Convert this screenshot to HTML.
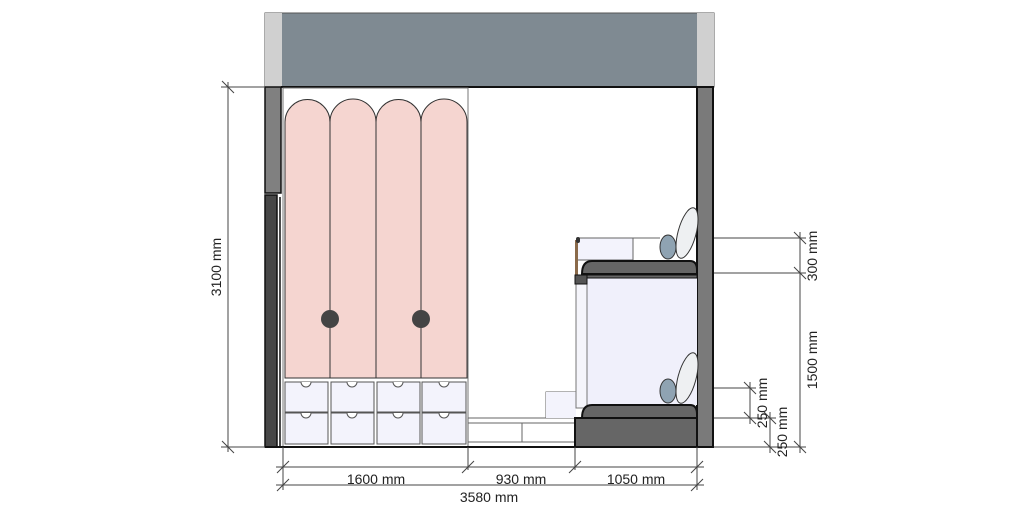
<!DOCTYPE html>
<html><head><meta charset="utf-8"><style>html,body{margin:0;padding:0;background:#fff}svg{display:block}text{font-family:"Liberation Sans",sans-serif;font-size:14px;fill:#222}</style></head><body>
<svg width="1024" height="512" viewBox="0 0 1024 512" xmlns="http://www.w3.org/2000/svg">
<!-- header -->
<rect x="265" y="13" width="449" height="74" fill="#7f8a92" stroke="#555" stroke-width="1"/>
<rect x="265" y="13" width="17" height="74" fill="#d0d0d0"/>
<rect x="697" y="13" width="17" height="74" fill="#d0d0d0"/>
<!-- walls -->
<rect x="265" y="87" width="16" height="106" fill="#808080" stroke="#111" stroke-width="1.5"/>
<rect x="265" y="195" width="12" height="252" fill="#474747" stroke="#111" stroke-width="1.5"/>
<line x1="280" y1="197" x2="280" y2="447" stroke="#111" stroke-width="1.5"/>
<rect x="697" y="87" width="16" height="360" fill="#7a7a7a" stroke="#111" stroke-width="2"/>
<line x1="281" y1="87" x2="714" y2="87" stroke="#111" stroke-width="2"/>
<!-- wardrobe -->
<rect x="283" y="88" width="185" height="359" fill="#fff" stroke="#777" stroke-width="1"/>
<g fill="#f5d5d0" stroke="#333" stroke-width="1">
<path d="M285 378 V122 A22.5 22.5 0 0 1 330 122 V378 Z"/>
<path d="M330 378 V122 A23 23 0 0 1 376 122 V378 Z"/>
<path d="M376 378 V122 A22.5 22.5 0 0 1 421 122 V378 Z"/>
<path d="M421 378 V122 A23 23 0 0 1 467 122 V378 Z"/>
</g>
<circle cx="330" cy="319" r="9" fill="#444"/>
<circle cx="421" cy="319" r="9" fill="#444"/>
<g fill="#f3f3fc" stroke="#555" stroke-width="1">
<rect x="285" y="382" width="43" height="30"/><rect x="331" y="382" width="43" height="30"/><rect x="377" y="382" width="43" height="30"/><rect x="422" y="382" width="44" height="30"/>
<rect x="285" y="413" width="43" height="31"/><rect x="331" y="413" width="43" height="31"/><rect x="377" y="413" width="43" height="31"/><rect x="422" y="413" width="44" height="31"/>
</g>
<g fill="#fff" stroke="#555" stroke-width="1">
<path d="M301 382 a5 5 0 0 0 10 0"/><path d="M347 382 a5 5 0 0 0 10 0"/><path d="M393 382 a5 5 0 0 0 10 0"/><path d="M439 382 a5 5 0 0 0 10 0"/>
<path d="M301 413 a5 5 0 0 0 10 0"/><path d="M347 413 a5 5 0 0 0 10 0"/><path d="M393 413 a5 5 0 0 0 10 0"/><path d="M439 413 a5 5 0 0 0 10 0"/>
</g>
<!-- steps -->
<rect x="468" y="418" width="108" height="29" fill="#fff" stroke="#666" stroke-width="1"/>
<line x1="468" y1="423" x2="576" y2="423" stroke="#666"/>
<line x1="468" y1="442" x2="576" y2="442" stroke="#666"/>
<line x1="522" y1="423" x2="522" y2="442" stroke="#666"/>
<path d="M546 418 V392 H576" fill="none" stroke="#666"/>
<rect x="546" y="392" width="30" height="26" fill="#f3f3fc"/>
<!-- bunk -->
<rect x="577" y="238" width="56" height="22" fill="#f3f3fc" stroke="#666" stroke-width="1"/>
<line x1="633" y1="238" x2="660" y2="238" stroke="#666"/>
<rect x="575" y="240" width="3" height="38" fill="#8a6a4a"/>
<rect x="576" y="237" width="4" height="6" rx="2" fill="#333"/>
<rect x="587" y="278" width="110" height="127" fill="#f0f0fb"/>
<rect x="576" y="278" width="11" height="130" fill="#f5f5fb" stroke="#777" stroke-width="1"/>
<path d="M582 274 Q582 261 592 261 H690 Q697 261 697 270 V274 Z" fill="#666" stroke="#111" stroke-width="2"/>
<rect x="575" y="275" width="122" height="3" fill="#666" stroke="#111" stroke-width="1"/>
<rect x="575" y="275" width="12" height="9" fill="#555" stroke="#111" stroke-width="1"/>
<path d="M582 418 Q582 405 592 405 H690 Q697 405 697 414 V418 Z" fill="#666" stroke="#111" stroke-width="2"/>
<rect x="575" y="418" width="122" height="29" fill="#666" stroke="#111" stroke-width="2"/>
<!-- pillows -->
<g stroke="#333" stroke-width="1">
<ellipse cx="668" cy="247" rx="8" ry="12" fill="#8fa3b2"/>
<ellipse cx="687" cy="233" rx="9" ry="26" fill="#eef0f2" transform="rotate(15 687 233)"/>
<ellipse cx="668" cy="391" rx="8" ry="12" fill="#8fa3b2"/>
<ellipse cx="687" cy="378" rx="9" ry="26" fill="#eef0f2" transform="rotate(15 687 378)"/>
</g>
<line x1="265" y1="447" x2="714" y2="447" stroke="#111" stroke-width="2"/>
<!-- dimensions -->
<g stroke="#444" stroke-width="1" fill="none">
<line x1="221" y1="87" x2="265" y2="87"/><line x1="221" y1="447" x2="265" y2="447"/>
<line x1="228" y1="82" x2="228" y2="452"/>
<line x1="222" y1="81" x2="234" y2="93"/><line x1="222" y1="441" x2="234" y2="453"/>
<line x1="283" y1="447" x2="283" y2="490"/><line x1="468" y1="447" x2="468" y2="470"/><line x1="575" y1="447" x2="575" y2="470"/><line x1="697" y1="447" x2="697" y2="490"/>
<line x1="276" y1="467" x2="704" y2="467"/><line x1="276" y1="485" x2="704" y2="485"/>
<line x1="277" y1="473" x2="289" y2="461"/><line x1="462" y1="473" x2="474" y2="461"/><line x1="569" y1="473" x2="581" y2="461"/><line x1="691" y1="473" x2="703" y2="461"/>
<line x1="277" y1="491" x2="289" y2="479"/><line x1="691" y1="491" x2="703" y2="479"/>
<line x1="714" y1="238" x2="806" y2="238"/><line x1="714" y1="273" x2="806" y2="273"/><line x1="714" y1="447" x2="806" y2="447"/>
<line x1="800" y1="232" x2="800" y2="453"/>
<line x1="794" y1="232" x2="806" y2="244"/><line x1="794" y1="267" x2="806" y2="279"/><line x1="794" y1="441" x2="806" y2="453"/>
<line x1="714" y1="388" x2="756" y2="388"/><line x1="714" y1="418" x2="776" y2="418"/>
<line x1="750" y1="382" x2="750" y2="424"/><line x1="744" y1="382" x2="756" y2="394"/><line x1="744" y1="412" x2="756" y2="424"/>
<line x1="770" y1="412" x2="770" y2="453"/><line x1="764" y1="412" x2="776" y2="424"/><line x1="764" y1="441" x2="776" y2="453"/>
</g>
<text x="221" y="267" text-anchor="middle" transform="rotate(-90 221 267)">3100 mm</text>
<text x="376" y="484" text-anchor="middle">1600 mm</text>
<text x="521" y="484" text-anchor="middle">930 mm</text>
<text x="636" y="484" text-anchor="middle">1050 mm</text>
<text x="489" y="502" text-anchor="middle">3580 mm</text>
<text x="817" y="256" text-anchor="middle" transform="rotate(-90 817 256)">300 mm</text>
<text x="817" y="360" text-anchor="middle" transform="rotate(-90 817 360)">1500 mm</text>
<text x="767" y="403" text-anchor="middle" transform="rotate(-90 767 403)">250 mm</text>
<text x="787" y="432" text-anchor="middle" transform="rotate(-90 787 432)">250 mm</text>
</svg>
</body></html>
